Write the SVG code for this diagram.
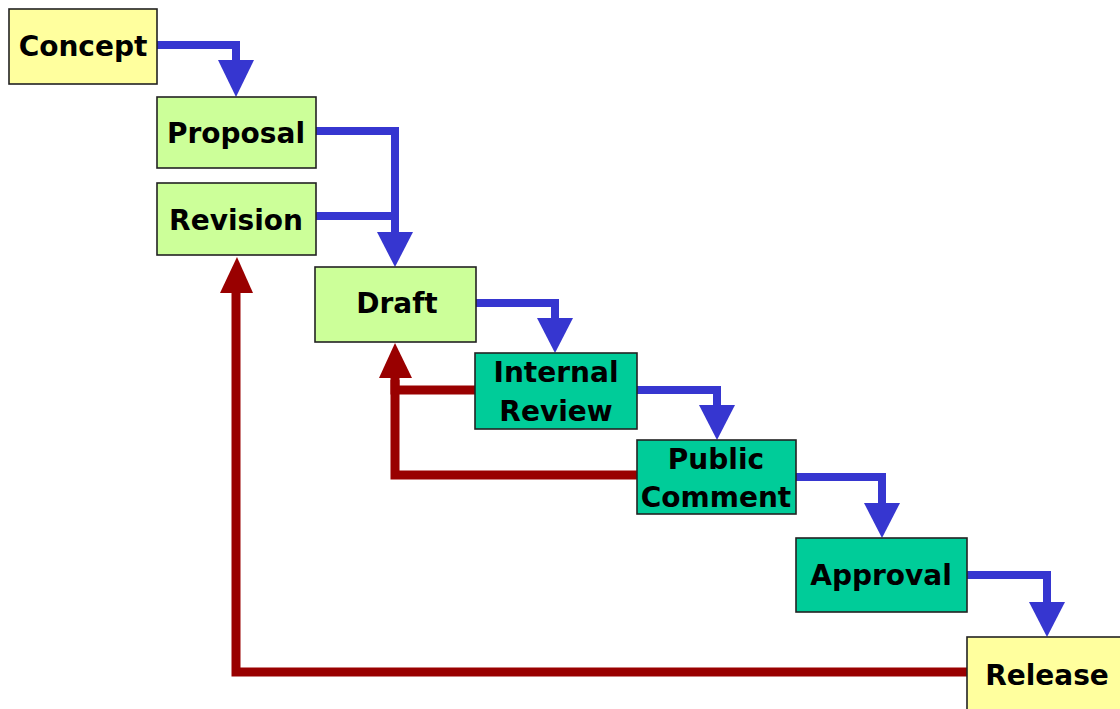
<svg xmlns="http://www.w3.org/2000/svg" width="1120" height="709" viewBox="0 0 1120 709">
<style>
.box{stroke:#222;stroke-width:1.6}
.y{fill:#FFFF9E}
.g{fill:#CCFF99}
.t{fill:#00CC99}
.lbl{font-family:"DejaVu Sans",Verdana,sans-serif;font-weight:bold;font-size:28px;fill:#000;text-anchor:middle}
.bl{fill:none;stroke:#3636D0;stroke-width:8;stroke-linejoin:miter}
.blh{fill:#3636D0}
.rd{fill:none;stroke:#990000;stroke-width:9;stroke-linejoin:miter}
.rdh{fill:#990000}
</style>
<rect width="1120" height="709" fill="#fff"/>
<g id="connectors">
<path class="bl" d="M157,45 H236 V62"/><polygon class="blh" points="218,60 254,60 236,97"/>
<path class="bl" d="M316,131 H395 V234"/><polygon class="blh" points="377,232 413,232 395,267"/>
<path class="bl" d="M316,216 H395"/>
<path class="bl" d="M476,303 H555 V320"/><polygon class="blh" points="537,318 573,318 555,353"/>
<path class="bl" d="M637,390 H717 V407"/><polygon class="blh" points="699,405 735,405 717,440"/>
<path class="bl" d="M796,477 H882 V505"/><polygon class="blh" points="864,503 900,503 882,538"/>
<path class="bl" d="M967,575 H1047 V604"/><polygon class="blh" points="1029,602 1065,602 1047,637"/>
<path class="rd" d="M475,390 H395 V375"/><polygon class="rdh" points="379,378 412,378 395,343"/>
<path class="rd" d="M637,475 H395 V380"/>
<path class="rd" d="M967,672 H236 V290"/><polygon class="rdh" points="220,293 253,293 237,257"/>
</g>
<g id="concept"><rect class="box y" x="9" y="9" width="148" height="75"/><text class="lbl" x="83" y="56">Concept</text></g>
<g id="proposal"><rect class="box g" x="157" y="97" width="159" height="71"/><text class="lbl" x="236" y="143">Proposal</text></g>
<g id="revision"><rect class="box g" x="157" y="183" width="159" height="72"/><text class="lbl" x="236" y="230">Revision</text></g>
<g id="draft"><rect class="box g" x="315" y="267" width="161" height="75"/><text class="lbl" x="397" y="313">Draft</text></g>
<g id="internal-review"><rect class="box t" x="475" y="353" width="162" height="76"/><text class="lbl" x="556" y="382">Internal</text><text class="lbl" x="556" y="421">Review</text></g>
<g id="public-comment"><rect class="box t" x="637" y="440" width="159" height="74"/><text class="lbl" x="716" y="469">Public</text><text class="lbl" x="716" y="507">Comment</text></g>
<g id="approval"><rect class="box t" x="796" y="538" width="171" height="74"/><text class="lbl" x="881" y="585">Approval</text></g>
<g id="release"><rect class="box y" x="967" y="637" width="165" height="80"/><text class="lbl" x="1047" y="685">Release</text></g>
</svg>
